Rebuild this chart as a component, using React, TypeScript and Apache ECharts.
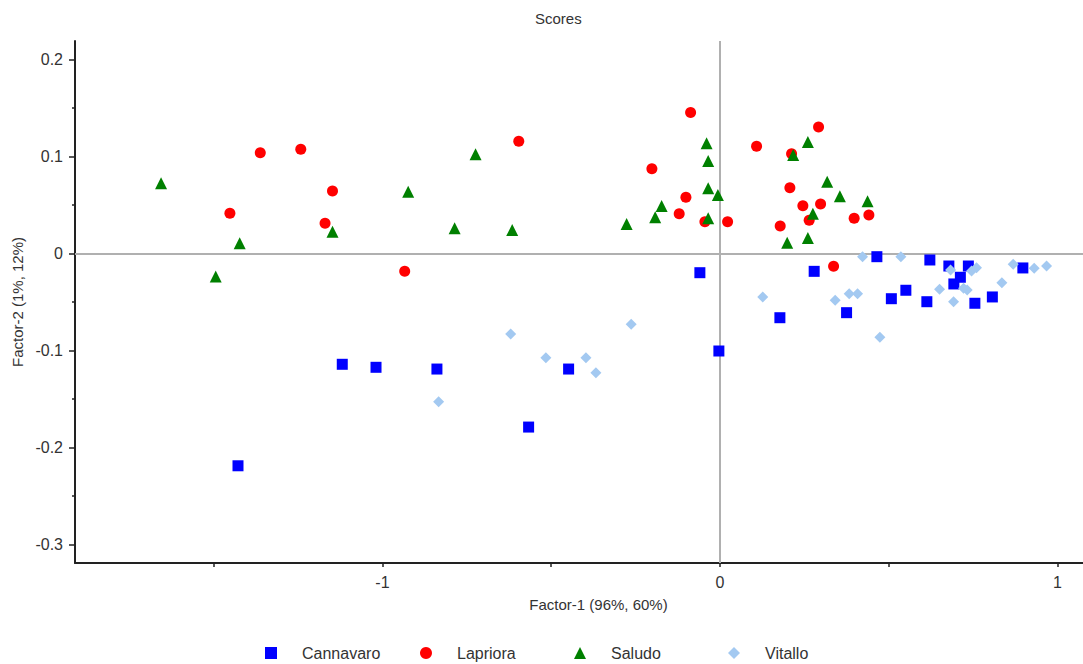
import React, { useEffect, useRef } from "react";
import * as echarts from "echarts";

const TITLE = "Scores";
const X_NAME = "Factor-1 (96%, 60%)";
const Y_NAME = "Factor-2 (1%, 12%)";
const SERIES_NAMES = ["Cannavaro", "Lapriora", "Saludo", "Vitallo"];
const X_TICKS = [-1.5, -1, -0.5, 0, 0.5, 1];
const X_LABELS = [-1, 0, 1];
const Y_LABELS = [-0.3, -0.2, -0.1, 0, 0.1, 0.2];
const Y_MINOR = [-0.25, -0.15, -0.05, 0.05, 0.15];

const cannavaro: [number, number][] = [
  [-1.428, -0.2188], [-1.119, -0.1142], [-1.019, -0.1173], [-0.8385, -0.1191],
  [-0.5668, -0.1789], [-0.4483, -0.1191], [-0.0593, -0.0198], [-0.003, -0.1005],
  [0.1778, -0.0662], [0.2794, -0.0184], [0.3754, -0.061], [0.4652, -0.0033],
  [0.5081, -0.0466], [0.5511, -0.0379], [0.6133, -0.0497], [0.6222, -0.0067],
  [0.6785, -0.0129], [0.6933, -0.0314], [0.7126, -0.0245], [0.7363, -0.0129],
  [0.7556, -0.0513], [0.8074, -0.0448], [0.8978, -0.0149],
];

const lapriora: [number, number][] = [
  [-1.452, 0.0414], [-1.362, 0.1039], [-1.242, 0.1074], [-1.17, 0.0311],
  [-1.148, 0.0644], [-0.934, -0.0184], [-0.596, 0.1157], [-0.2015, 0.0874],
  [-0.1206, 0.041], [-0.1007, 0.0579], [-0.0868, 0.1452], [-0.0444, 0.0328],
  [0.0228, 0.0328], [0.1087, 0.1105], [0.1787, 0.0284], [0.2074, 0.0678],
  [0.2124, 0.1029], [0.2459, 0.0493], [0.2646, 0.0342], [0.2924, 0.1304],
  [0.2984, 0.051], [0.3369, -0.0132], [0.3979, 0.0363], [0.4415, 0.0397],
];

const saludo: [number, number][] = [
  [-1.656, 0.0724], [-1.494, -0.0237], [-1.423, 0.0105], [-1.148, 0.0225],
  [-0.9236, 0.0637], [-0.786, 0.026], [-0.724, 0.1023], [-0.6154, 0.0242],
  [-0.2764, 0.0304], [-0.1917, 0.0373], [-0.1727, 0.049], [-0.0394, 0.1136],
  [-0.0347, 0.0954], [-0.0347, 0.0672], [-0.0347, 0.0363], [-0.0059, 0.0603],
  [0.1994, 0.0111], [0.2172, 0.1015], [0.2607, 0.1149], [0.2607, 0.016],
  [0.2756, 0.041], [0.3179, 0.074], [0.3556, 0.059], [0.4376, 0.0538],
];

const vitallo: [number, number][] = [
  [-0.8335, -0.1528], [-0.62, -0.083], [-0.5156, -0.1074], [-0.397, -0.1074],
  [-0.3674, -0.1229], [-0.2628, -0.073], [0.127, -0.0448], [0.3417, -0.0483],
  [0.3832, -0.0414], [0.408, -0.0414], [0.4227, -0.0033], [0.474, -0.0864],
  [0.5363, -0.0033], [0.6509, -0.0369], [0.6835, -0.017], [0.6924, -0.0497],
  [0.722, -0.0359], [0.7328, -0.0376], [0.7457, -0.018], [0.7605, -0.0146],
  [0.8356, -0.0301], [0.8691, -0.0111], [0.9313, -0.0153], [0.968, -0.0129],
];

const SERIES_DATA = [cannavaro, lapriora, saludo, vitallo];
const SYMBOLS = ["rect", "circle", "triangle", "diamond"];
const SYMBOL_SIZES = [11, 11, 12, 11];
const COLORS = ["#0000ff", "#ff0000", "#008000", "#a3c9f1"];
const LEGEND_LEFT = [265, 420, 574, 728];

const FONT = "'Liberation Sans', Arial, sans-serif";

export default function App() {
  const ref = useRef<HTMLDivElement>(null);

  useEffect(() => {
    if (!ref.current) return;
    const chart = echarts.init(ref.current, undefined, { renderer: "svg" });

    const series = SERIES_NAMES.map((name, i) => {
      const s: any = {
        name,
        type: "scatter",
        data: SERIES_DATA[i],
        symbol: SYMBOLS[i],
        symbolSize: SYMBOL_SIZES[i],
        itemStyle: { color: COLORS[i], opacity: 1 },
        z: 3,
      };
      if (i === 0) {
        s.markLine = {
          silent: true,
          symbol: ["none", "none"],
          z: 1,
          label: { show: false },
          lineStyle: { color: "#b0b0b0", width: 2, type: "solid" },
          data: [{ xAxis: 0 }, { yAxis: 0 }],
        };
      }
      return s;
    });

    const option: any = {
      animation: false,
      textStyle: { fontFamily: FONT },
      title: {
        text: TITLE,
        left: 535,
        top: 11,
        padding: 0,
        textStyle: { fontSize: 15, fontWeight: "normal", color: "#333", fontFamily: FONT },
      },
      grid: { left: 75, right: 0, top: 41, bottom: 101, containLabel: false, outerBoundsMode: "none" },
      xAxis: {
        type: "value",
        min: -1.911,
        max: 1.076,
        name: X_NAME,
        nameLocation: "middle",
        nameGap: 34,
        nameTextStyle: { fontSize: 15, color: "#333", padding: [0, 0, 0, 39], fontFamily: FONT },
        axisLine: { show: true, onZero: false, lineStyle: { color: "#222", width: 2 } },
        axisTick: { show: true, customValues: X_TICKS, length: 4, lineStyle: { color: "#222", width: 1.5 } },
        axisLabel: { customValues: X_LABELS, fontSize: 16, color: "#333", margin: 11, fontFamily: FONT },
        splitLine: { show: false },
      },
      yAxis: [
        {
          type: "value",
          min: -0.319,
          max: 0.219,
          name: Y_NAME,
          nameLocation: "middle",
          nameGap: 48,
          nameTextStyle: { fontSize: 15, color: "#333", fontFamily: FONT },
          axisLine: { show: true, onZero: false, lineStyle: { color: "#222", width: 2 } },
          axisTick: { show: true, customValues: Y_LABELS, length: 6, lineStyle: { color: "#222", width: 1.5 } },
          axisLabel: { customValues: Y_LABELS, fontSize: 16, color: "#333", margin: 12, fontFamily: FONT },
          splitLine: { show: false },
        },
        {
          type: "value",
          position: "left",
          min: -0.319,
          max: 0.219,
          axisLine: { show: false, onZero: false },
          axisTick: { show: true, customValues: Y_MINOR, length: 3, lineStyle: { color: "#222", width: 1.5 } },
          axisLabel: { show: false },
          splitLine: { show: false },
        },
      ],
      legend: SERIES_NAMES.map((name, i) => ({
        data: [name],
        left: LEGEND_LEFT[i],
        top: 645,
        padding: 0,
        itemWidth: 12,
        itemHeight: 12,
        selectedMode: false,
        textStyle: { fontSize: 16, color: "#333", padding: [0, 0, 0, 20], fontFamily: FONT },
      })),
      series,
    };

    chart.setOption(option);
    return () => {
      chart.dispose();
    };
  }, []);

  return (
    <div
      ref={ref}
      style={{ position: "fixed", left: 0, top: 0, width: 1083, height: 664, background: "#fff" }}
    />
  );
}
